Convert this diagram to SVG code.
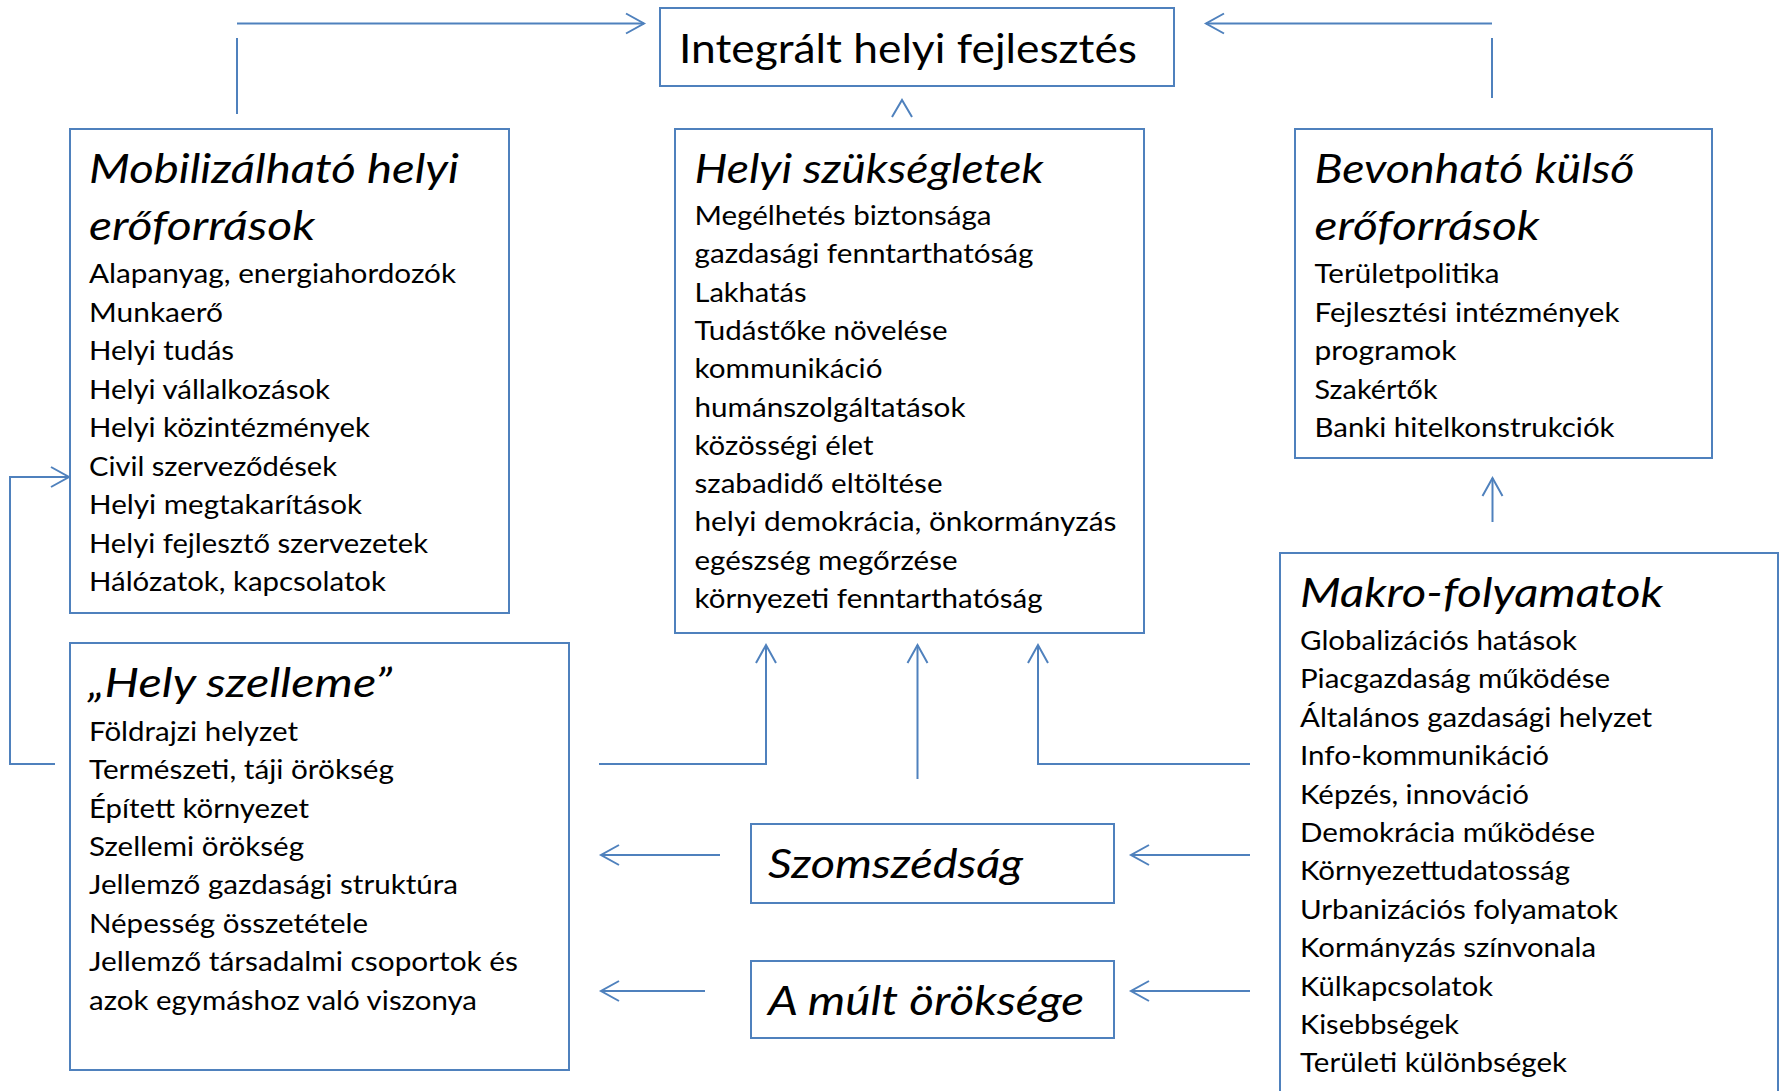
<svg xmlns="http://www.w3.org/2000/svg" width="1779" height="1091" viewBox="0 0 1779 1091">
<style>
.box{fill:#fff;stroke:#4F81BD;stroke-width:2}
.ln{fill:none;stroke:#4F81BD;stroke-width:2}
.t{font-family:Lato,"Open Sans","Liberation Sans",sans-serif;font-size:26.5px;fill:#000}
.h{font-family:Lato,"Open Sans","Liberation Sans",sans-serif;font-size:40px;font-style:italic;fill:#000}
.top{font-family:Lato,"Open Sans","Liberation Sans",sans-serif;font-size:41px;fill:#000}
</style>
<defs>
<marker id="arr" markerUnits="userSpaceOnUse" markerWidth="24" markerHeight="24" viewBox="-20 -12 22 24" refX="0" refY="0" orient="auto">
<path d="M-18,-10 L0,0 L-18,10" fill="none" stroke="#4F81BD" stroke-width="2"/>
</marker>
</defs>
<rect width="1779" height="1091" fill="#fff"/>

<g id="connectors">
<polyline class="ln" points="237,114 237,38"/>
<polyline class="ln" points="237,23.5 644,23.5" marker-end="url(#arr)"/>
<polyline class="ln" points="1492,98 1492,38"/>
<polyline class="ln" points="1492,23.5 1206,23.5" marker-end="url(#arr)"/>
<path class="ln" d="M892,117 L902,100 L912,117"/>
<polyline class="ln" points="1492.5,522 1492.5,478" marker-end="url(#arr)"/>
<polyline class="ln" points="55,764 10,764 10,477 69,477" marker-end="url(#arr)"/>
<polyline class="ln" points="599,764 766,764 766,645" marker-end="url(#arr)"/>
<polyline class="ln" points="917.5,779 917.5,645" marker-end="url(#arr)"/>
<polyline class="ln" points="1250,764 1038,764 1038,645" marker-end="url(#arr)"/>
<polyline class="ln" points="720,855 601,855" marker-end="url(#arr)"/>
<polyline class="ln" points="1250,855 1131,855" marker-end="url(#arr)"/>
<polyline class="ln" points="705,991 601,991" marker-end="url(#arr)"/>
<polyline class="ln" points="1250,991 1131,991" marker-end="url(#arr)"/>
</g>

<g id="integralt">
<rect class="box" x="660" y="8" width="514" height="78"/>
<text class="top" x="679" y="62.7" textLength="458" lengthAdjust="spacingAndGlyphs">Integrált helyi fejlesztés</text>
</g>

<g id="mobilizalhato">
<rect class="box" x="70" y="129" width="439" height="484"/>
<text class="h" x="89" y="183" textLength="370" lengthAdjust="spacingAndGlyphs">Mobilizálható helyi</text>
<text class="h" x="89" y="240" textLength="226" lengthAdjust="spacingAndGlyphs">erőforrások</text>
<text class="t" x="89" y="283.3" textLength="367" lengthAdjust="spacingAndGlyphs">Alapanyag, energiahordozók</text>
<text class="t" x="89" y="321.8" textLength="134" lengthAdjust="spacingAndGlyphs">Munkaerő</text>
<text class="t" x="89" y="360.3" textLength="145" lengthAdjust="spacingAndGlyphs">Helyi tudás</text>
<text class="t" x="89" y="398.8" textLength="241" lengthAdjust="spacingAndGlyphs">Helyi vállalkozások</text>
<text class="t" x="89" y="437.3" textLength="281" lengthAdjust="spacingAndGlyphs">Helyi közintézmények</text>
<text class="t" x="89" y="475.8" textLength="248" lengthAdjust="spacingAndGlyphs">Civil szerveződések</text>
<text class="t" x="89" y="514.3" textLength="273" lengthAdjust="spacingAndGlyphs">Helyi megtakarítások</text>
<text class="t" x="89" y="552.8" textLength="339" lengthAdjust="spacingAndGlyphs">Helyi fejlesztő szervezetek</text>
<text class="t" x="89" y="591.3" textLength="297" lengthAdjust="spacingAndGlyphs">Hálózatok, kapcsolatok</text>
</g>

<g id="szuksegletek">
<rect class="box" x="675" y="129" width="469" height="504"/>
<text class="h" x="694.5" y="183" textLength="349" lengthAdjust="spacingAndGlyphs">Helyi szükségletek</text>
<text class="t" x="694.5" y="225" textLength="297" lengthAdjust="spacingAndGlyphs">Megélhetés biztonsága</text>
<text class="t" x="694.5" y="263.3" textLength="339" lengthAdjust="spacingAndGlyphs">gazdasági fenntarthatóság</text>
<text class="t" x="694.5" y="301.6" textLength="112" lengthAdjust="spacingAndGlyphs">Lakhatás</text>
<text class="t" x="694.5" y="339.9" textLength="253" lengthAdjust="spacingAndGlyphs">Tudástőke növelése</text>
<text class="t" x="694.5" y="378.2" textLength="188" lengthAdjust="spacingAndGlyphs">kommunikáció</text>
<text class="t" x="694.5" y="416.5" textLength="271" lengthAdjust="spacingAndGlyphs">humánszolgáltatások</text>
<text class="t" x="694.5" y="454.8" textLength="179" lengthAdjust="spacingAndGlyphs">közösségi élet</text>
<text class="t" x="694.5" y="493.1" textLength="248" lengthAdjust="spacingAndGlyphs">szabadidő eltöltése</text>
<text class="t" x="694.5" y="531.4" textLength="422" lengthAdjust="spacingAndGlyphs">helyi demokrácia, önkormányzás</text>
<text class="t" x="694.5" y="569.7" textLength="263" lengthAdjust="spacingAndGlyphs">egészség megőrzése</text>
<text class="t" x="694.5" y="608" textLength="348" lengthAdjust="spacingAndGlyphs">környezeti fenntarthatóság</text>
</g>

<g id="bevonhato">
<rect class="box" x="1295" y="129" width="417" height="329"/>
<text class="h" x="1314.5" y="183" textLength="320" lengthAdjust="spacingAndGlyphs">Bevonható külső</text>
<text class="h" x="1314.5" y="240" textLength="225" lengthAdjust="spacingAndGlyphs">erőforrások</text>
<text class="t" x="1314.5" y="283.3" textLength="185" lengthAdjust="spacingAndGlyphs">Területpolitika</text>
<text class="t" x="1314.5" y="321.8" textLength="305" lengthAdjust="spacingAndGlyphs">Fejlesztési intézmények</text>
<text class="t" x="1314.5" y="360.3" textLength="142" lengthAdjust="spacingAndGlyphs">programok</text>
<text class="t" x="1314.5" y="398.8" textLength="123" lengthAdjust="spacingAndGlyphs">Szakértők</text>
<text class="t" x="1314.5" y="437.3" textLength="300" lengthAdjust="spacingAndGlyphs">Banki hitelkonstrukciók</text>
</g>

<g id="makro">
<rect class="box" x="1280" y="553" width="498" height="560"/>
<text class="h" x="1300" y="606.7" textLength="363" lengthAdjust="spacingAndGlyphs">Makro-folyamatok</text>
<text class="t" x="1300" y="650" textLength="277" lengthAdjust="spacingAndGlyphs">Globalizációs hatások</text>
<text class="t" x="1300" y="688.4" textLength="310" lengthAdjust="spacingAndGlyphs">Piacgazdaság működése</text>
<text class="t" x="1300" y="726.8" textLength="352" lengthAdjust="spacingAndGlyphs">Általános gazdasági helyzet</text>
<text class="t" x="1300" y="765.2" textLength="249" lengthAdjust="spacingAndGlyphs">Info-kommunikáció</text>
<text class="t" x="1300" y="803.6" textLength="229" lengthAdjust="spacingAndGlyphs">Képzés, innováció</text>
<text class="t" x="1300" y="842" textLength="295" lengthAdjust="spacingAndGlyphs">Demokrácia működése</text>
<text class="t" x="1300" y="880.4" textLength="270" lengthAdjust="spacingAndGlyphs">Környezettudatosság</text>
<text class="t" x="1300" y="918.8" textLength="318" lengthAdjust="spacingAndGlyphs">Urbanizációs folyamatok</text>
<text class="t" x="1300" y="957.2" textLength="296" lengthAdjust="spacingAndGlyphs">Kormányzás színvonala</text>
<text class="t" x="1300" y="995.6" textLength="193" lengthAdjust="spacingAndGlyphs">Külkapcsolatok</text>
<text class="t" x="1300" y="1034" textLength="159" lengthAdjust="spacingAndGlyphs">Kisebbségek</text>
<text class="t" x="1300" y="1072.4" textLength="267" lengthAdjust="spacingAndGlyphs">Területi különbségek</text>
</g>

<g id="hely-szelleme">
<rect class="box" x="70" y="643" width="499" height="427"/>
<text class="h" x="88" y="697" textLength="304" lengthAdjust="spacingAndGlyphs">„Hely szelleme”</text>
<text class="t" x="89" y="740.7" textLength="209" lengthAdjust="spacingAndGlyphs">Földrajzi helyzet</text>
<text class="t" x="89" y="779.1" textLength="305" lengthAdjust="spacingAndGlyphs">Természeti, táji örökség</text>
<text class="t" x="89" y="817.5" textLength="220" lengthAdjust="spacingAndGlyphs">Épített környezet</text>
<text class="t" x="89" y="855.9" textLength="215" lengthAdjust="spacingAndGlyphs">Szellemi örökség</text>
<text class="t" x="89" y="894.3" textLength="369" lengthAdjust="spacingAndGlyphs">Jellemző gazdasági struktúra</text>
<text class="t" x="89" y="932.7" textLength="279" lengthAdjust="spacingAndGlyphs">Népesség összetétele</text>
<text class="t" x="89" y="971.1" textLength="429" lengthAdjust="spacingAndGlyphs">Jellemző társadalmi csoportok és</text>
<text class="t" x="89" y="1009.5" textLength="388" lengthAdjust="spacingAndGlyphs">azok egymáshoz való viszonya</text>
</g>

<g id="szomszedsag">
<rect class="box" x="751" y="824" width="363" height="79"/>
<text class="h" x="768" y="878" textLength="255" lengthAdjust="spacingAndGlyphs">Szomszédság</text>
</g>

<g id="mult-oroksege">
<rect class="box" x="751" y="961" width="363" height="77"/>
<text class="h" x="768" y="1015" textLength="316" lengthAdjust="spacingAndGlyphs">A múlt öröksége</text>
</g>
</svg>
